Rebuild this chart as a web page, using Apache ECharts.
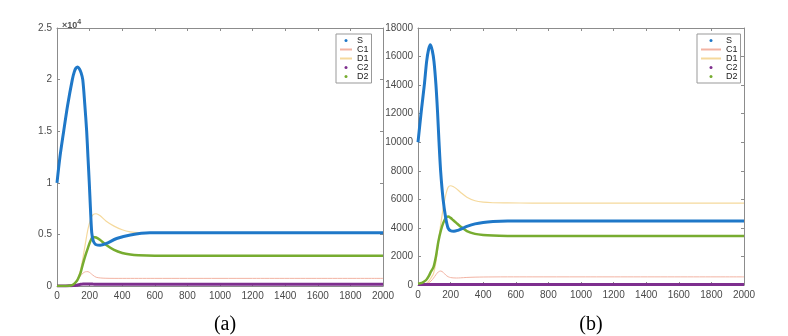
<!DOCTYPE html>
<html>
<head>
<meta charset="utf-8">
<script src="https://cdn.jsdelivr.net/npm/echarts@6/dist/echarts.min.js"></script>
<style>
  html, body { margin: 0; padding: 0; background: #fff; }
  #main { width: 788px; height: 336px; }
</style>
</head>
<body>
<div id="main"></div>
<script>
// panel (a): S has its own, denser time points around the peak
const tSA = [0, 18, 41, 65, 94, 106, 117, 127, 137, 148, 158, 170, 182, 190, 198, 205, 213, 222, 235, 250, 265, 300, 366, 450, 570, 800, 1200, 2000];
const sA = [10000, 12500, 15000, 17500, 20000, 20750, 21130, 21220, 21050, 20650, 20000, 17700, 15000, 12500, 10000, 7600, 5200, 4400, 4050, 3960, 3950, 4100, 4600, 4950, 5150, 5150, 5150, 5150];
const tA = [0, 25, 50, 75, 100, 120, 132, 145, 160, 175, 190, 205, 220, 240, 265, 300, 350, 400, 450, 500, 600, 800, 1200, 2000];
const c1A = [0, 0, 10, 40, 150, 400, 700, 1000, 1250, 1380, 1390, 1250, 1050, 850, 780, 750, 740, 740, 740, 740, 740, 740, 740, 740];
const d1A = [0, 0, 0, 20, 200, 500, 900, 1600, 2800, 4200, 5500, 6400, 6900, 7000, 6800, 6300, 5800, 5450, 5250, 5170, 5130, 5130, 5130, 5130];
const c2A = [0, 0, 5, 15, 40, 80, 120, 160, 190, 200, 200, 195, 185, 175, 170, 165, 165, 165, 165, 165, 165, 165, 165, 165];
const d2A = [0, 0, 0, 20, 150, 450, 800, 1300, 2200, 3000, 3700, 4350, 4750, 4700, 4450, 4000, 3500, 3200, 3050, 2980, 2930, 2920, 2920, 2920];

// panel (b)
const tSB = [0, 20, 39, 53, 65, 76, 88, 98, 110, 120, 129, 139, 154, 170, 184, 200, 220, 245, 270, 300, 350, 400, 460, 550, 700, 1000, 2000];
const sB = [10000, 12160, 14030, 15660, 16500, 16830, 16400, 15660, 14030, 12100, 10000, 7960, 6000, 4700, 4000, 3800, 3760, 3830, 3950, 4100, 4280, 4380, 4440, 4480, 4490, 4490, 4490];
const tB = [0, 15, 30, 50, 65, 80, 95, 110, 125, 140, 155, 170, 185, 200, 215, 235, 260, 300, 350, 400, 460, 550, 700, 1000, 2000];
const c1B = [0, 10, 30, 80, 150, 280, 480, 720, 920, 980, 880, 700, 580, 520, 500, 490, 500, 530, 550, 560, 565, 570, 570, 570, 570];
const d1B = [0, 10, 30, 100, 250, 500, 800, 1600, 3000, 4300, 5400, 6300, 6850, 6950, 6900, 6750, 6500, 6150, 5900, 5800, 5760, 5750, 5740, 5740, 5740];
const c2B = [30, 30, 30, 30, 30, 30, 30, 30, 30, 30, 30, 30, 30, 30, 30, 30, 30, 30, 30, 30, 30, 30, 30, 30, 30];
const d2B = [100, 120, 180, 350, 600, 950, 1250, 2000, 3050, 3800, 4350, 4700, 4790, 4700, 4550, 4350, 4100, 3780, 3580, 3500, 3460, 3440, 3430, 3430, 3430];

const colorS = "#1f78c8";
const colorC1 = "#f2b3a3";
const colorD1 = "#f5d99c";
const colorC2 = "#7E2F8E";
const colorD2 = "#77AC30";

const axisGray = "#8c8c8c";
const labelStyle = { color: "#4a4a4a", fontSize: 10, fontFamily: "Liberation Sans, Arial, sans-serif" };

function pairs(t, v) {
  return t.map((x, i) => [x, v[i]]);
}

function makeSeries(idx, tS, s, t, c1, d1, c2, d2) {
  const ax = idx * 2;
  const base = { type: "line", xAxisIndex: ax, yAxisIndex: ax, symbol: "none", smooth: 0.3, animation: false };
  return [
    { ...base, name: "C1", data: pairs(t, c1), z: 2, lineStyle: { color: colorC1, width: 1 }, itemStyle: { color: colorC1 } },
    { ...base, name: "D1", data: pairs(t, d1), z: 2, lineStyle: { color: colorD1, width: 1.2 }, itemStyle: { color: colorD1 } },
    { ...base, name: "C2", data: pairs(t, c2), z: 3, lineStyle: { color: colorC2, width: 3 }, itemStyle: { color: colorC2 } },
    { ...base, name: "D2", data: pairs(t, d2), z: 3, lineStyle: { color: colorD2, width: 2.5 }, itemStyle: { color: colorD2 } },
    { ...base, name: "S", data: pairs(tS, s), z: 4, lineStyle: { color: colorS, width: 3 }, itemStyle: { color: colorS } },
  ];
}

function xAxes(grid) {
  const common = {
    gridIndex: grid, type: "value", min: 0, max: 2000, interval: 200,
    axisLine: { show: true, onZero: false, lineStyle: { color: axisGray, width: 1 } },
    axisTick: { show: true, inside: true, length: 3, lineStyle: { color: axisGray } },
    splitLine: { show: false },
  };
  return [
    { ...common, position: "bottom", axisLabel: { ...labelStyle, margin: 5, formatter: (v) => String(v) } },
    { ...common, position: "top", axisLabel: { show: false } },
  ];
}

function yAxes(grid, max, interval, fmt) {
  const common = {
    gridIndex: grid, type: "value", min: 0, max: max, interval: interval,
    axisLine: { show: true, onZero: false, lineStyle: { color: axisGray, width: 1 } },
    axisTick: { show: true, inside: true, length: 3, lineStyle: { color: axisGray } },
    splitLine: { show: false },
  };
  return [
    { ...common, position: "left", axisLabel: { ...labelStyle, margin: 5, formatter: fmt } },
    { ...common, position: "right", axisLabel: { show: false } },
  ];
}

function legendAt(left, itemWidth) {
  return {
    orient: "vertical",
    left: left, top: 34,
    backgroundColor: "#fff",
    borderColor: "#999", borderWidth: 1, borderRadius: 0,
    padding: [2, 3, 2, 3],
    itemGap: 0,
    itemWidth: itemWidth, itemHeight: 3,
    textStyle: { fontSize: 9, color: "#222", fontFamily: "Liberation Sans, Arial, sans-serif" },
    data: [
      { name: "S", icon: "circle" },
      { name: "C1", itemStyle: { opacity: 0 } },
      { name: "D1", itemStyle: { opacity: 0 } },
      { name: "C2", icon: "circle" },
      { name: "D2", icon: "circle" },
    ],
  };
}

const chart = echarts.init(document.getElementById("main"), null, { renderer: "canvas" });
chart.setOption({
  animation: false,
  backgroundColor: "#fff",
  grid: [
    { left: 57, top: 28, width: 326, height: 258 },
    { left: 418, top: 28, width: 326, height: 257 },
  ],
  xAxis: [...xAxes(0), ...xAxes(1)],
  yAxis: [
    ...yAxes(0, 25000, 5000, (v) => String(v / 10000)),
    ...yAxes(1, 18000, 2000, (v) => String(v)),
  ],
  legend: [legendAt(336, 12), legendAt(697, 20)],
  title: [
    {
      text: "{a|×10}{b|4}", left: 57, top: 14,
      textStyle: { rich: {
        a: { fontSize: 9, color: "#555", fontFamily: "Liberation Sans, Arial, sans-serif" },
        b: { fontSize: 7, color: "#555", verticalAlign: "top", padding: [0, 0, 6, 0] },
      } },
    },
    { text: "(a)", left: 220, top: 310, textAlign: "center", textStyle: { fontSize: 20, fontWeight: "normal", color: "#000", fontFamily: "Liberation Serif, DejaVu Serif, serif" } },
    { text: "(b)", left: 586, top: 310, textAlign: "center", textStyle: { fontSize: 20, fontWeight: "normal", color: "#000", fontFamily: "Liberation Serif, DejaVu Serif, serif" } },
  ],
  series: [
    ...makeSeries(0, tSA, sA, tA, c1A, d1A, c2A, d2A),
    ...makeSeries(1, tSB, sB, tB, c1B, d1B, c2B, d2B),
  ],
});
</script>
</body>
</html>
